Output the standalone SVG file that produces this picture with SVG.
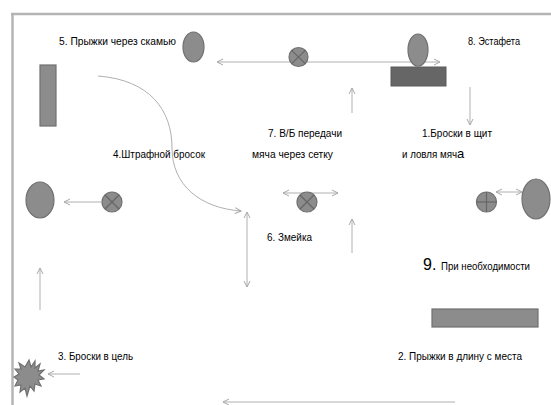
<svg xmlns="http://www.w3.org/2000/svg" width="551" height="405" viewBox="0 0 551 405">
<style>
.t{font-family:"Liberation Sans",Arial,sans-serif;font-size:10px;fill:#000}
.ln{stroke:#b0b0b0;stroke-width:1;fill:none}
.sh{fill:#8c8c8c;stroke:#707070;stroke-width:1.2}
.x{stroke:#666;stroke-width:1.2}
</style>
<defs>
<marker id="ah" viewBox="0 0 8 8" refX="7" refY="4" markerWidth="8" markerHeight="8" markerUnits="userSpaceOnUse" orient="auto-start-reverse">
<path d="M1,1 L7,4 L1,7" fill="none" stroke="#a8a8a8" stroke-width="1"/>
</marker>
</defs>
<rect width="551" height="405" fill="#fff"/>
<g id="frame">
<line x1="11" y1="14" x2="551" y2="14" stroke="#b4b4b4" stroke-width="2.5"/>
<line x1="12.5" y1="13" x2="12.5" y2="405" stroke="#b4b4b4" stroke-width="2.5"/>
</g>
<g id="connectors">
<line class="ln" x1="217" y1="62" x2="440" y2="62" marker-start="url(#ah)" marker-end="url(#ah)"/>
<line class="ln" x1="352" y1="113" x2="352" y2="88" marker-end="url(#ah)"/>
<line class="ln" x1="470" y1="87" x2="470" y2="125" marker-end="url(#ah)"/>
<path class="ln" d="M98,76 C150,80 172,110 172,148 C172,185 200,208 241,211" marker-end="url(#ah)"/>
<line class="ln" x1="101" y1="202" x2="64" y2="202" marker-end="url(#ah)"/>
<line class="ln" x1="40" y1="310" x2="40" y2="268" marker-end="url(#ah)"/>
<line class="ln" x1="247" y1="212" x2="247" y2="287" marker-start="url(#ah)" marker-end="url(#ah)"/>
<line class="ln" x1="283" y1="193" x2="338" y2="193" marker-start="url(#ah)" marker-end="url(#ah)"/>
<line class="ln" x1="352" y1="253" x2="352" y2="219" marker-end="url(#ah)"/>
<line class="ln" x1="496" y1="192" x2="522" y2="192" marker-start="url(#ah)" marker-end="url(#ah)"/>
<line class="ln" x1="80" y1="374" x2="48" y2="374" marker-end="url(#ah)"/>
<line class="ln" x1="455" y1="402" x2="223" y2="402" marker-end="url(#ah)"/>
</g>
<g id="n-oval-top"><ellipse class="sh" cx="193.5" cy="47" rx="10.5" ry="15"/></g>
<g id="n-cross-top"><circle class="sh" cx="298.5" cy="57" r="9.5"/><line class="x" x1="291.8" y1="50.3" x2="305.2" y2="63.7"/><line class="x" x1="305.2" y1="50.3" x2="291.8" y2="63.7"/></g>
<g id="n-oval-relay"><ellipse class="sh" cx="418" cy="50" rx="10" ry="16"/></g>
<g id="n-rect-relay"><rect x="391" y="67" width="55" height="19" fill="#666" stroke="#5a5a5a"/></g>
<g id="n-rect-left"><rect class="sh" x="40" y="65" width="16" height="61"/></g>
<g id="n-oval-left"><ellipse class="sh" cx="40" cy="200" rx="14" ry="18"/></g>
<g id="n-cross-left"><circle class="sh" cx="112" cy="202" r="10"/><line class="x" x1="105" y1="195" x2="119" y2="209"/><line class="x" x1="119" y1="195" x2="105" y2="209"/></g>
<g id="n-cross-mid"><circle class="sh" cx="307" cy="202" r="10"/><line class="x" x1="300" y1="195" x2="314" y2="209"/><line class="x" x1="314" y1="195" x2="300" y2="209"/></g>
<g id="n-plus-right"><circle class="sh" cx="486.5" cy="202" r="10"/><line class="x" x1="476.5" y1="202" x2="496.5" y2="202"/><line class="x" x1="486.5" y1="192" x2="486.5" y2="212"/></g>
<g id="n-oval-right"><ellipse class="sh" cx="536" cy="199" rx="14" ry="20"/></g>
<g id="n-rect-bottom"><rect class="sh" x="432" y="309" width="106" height="18"/></g>
<g id="n-star"><polygon class="sh" points="29,360 31,367 35,361 35,368 40,364 38,371 44,370 39,375 44,379 38,380 41,386 35,384 34,391 30,386 27,396 25,388 20,392 21,385 15,386 18,380 14,377 19,374 15,369 21,369 19,363 25,367"/></g>
<g id="labels">
<text class="t" x="59" y="45" textLength="117" lengthAdjust="spacingAndGlyphs">5. Прыжки через скамью</text>
<text class="t" x="468" y="45" textLength="52" lengthAdjust="spacingAndGlyphs">8. Эстафета</text>
<text class="t" x="268" y="137" textLength="74" lengthAdjust="spacingAndGlyphs">7. В/Б передачи</text>
<text class="t" x="422" y="137" textLength="70" lengthAdjust="spacingAndGlyphs">1.Броски в щит</text>
<text class="t" x="113" y="158" textLength="92" lengthAdjust="spacingAndGlyphs">4.Штрафной бросок</text>
<text class="t" x="252" y="158" textLength="81" lengthAdjust="spacingAndGlyphs">мяча через сетку</text>
<text class="t" x="402" y="158"><tspan textLength="55" lengthAdjust="spacingAndGlyphs">и ловля мяч</tspan><tspan style="font-size:13px">а</tspan></text>
<text class="t" x="267" y="241" textLength="45" lengthAdjust="spacingAndGlyphs">6. Змейка</text>
<text class="t" x="423" y="270"><tspan style="font-size:16px">9.</tspan><tspan x="441" textLength="89" lengthAdjust="spacingAndGlyphs">При необходимости</tspan></text>
<text class="t" x="398" y="360" textLength="124" lengthAdjust="spacingAndGlyphs">2. Прыжки в длину с места</text>
<text class="t" x="58" y="360" textLength="75" lengthAdjust="spacingAndGlyphs">3. Броски в цель</text>
</g>
</svg>
